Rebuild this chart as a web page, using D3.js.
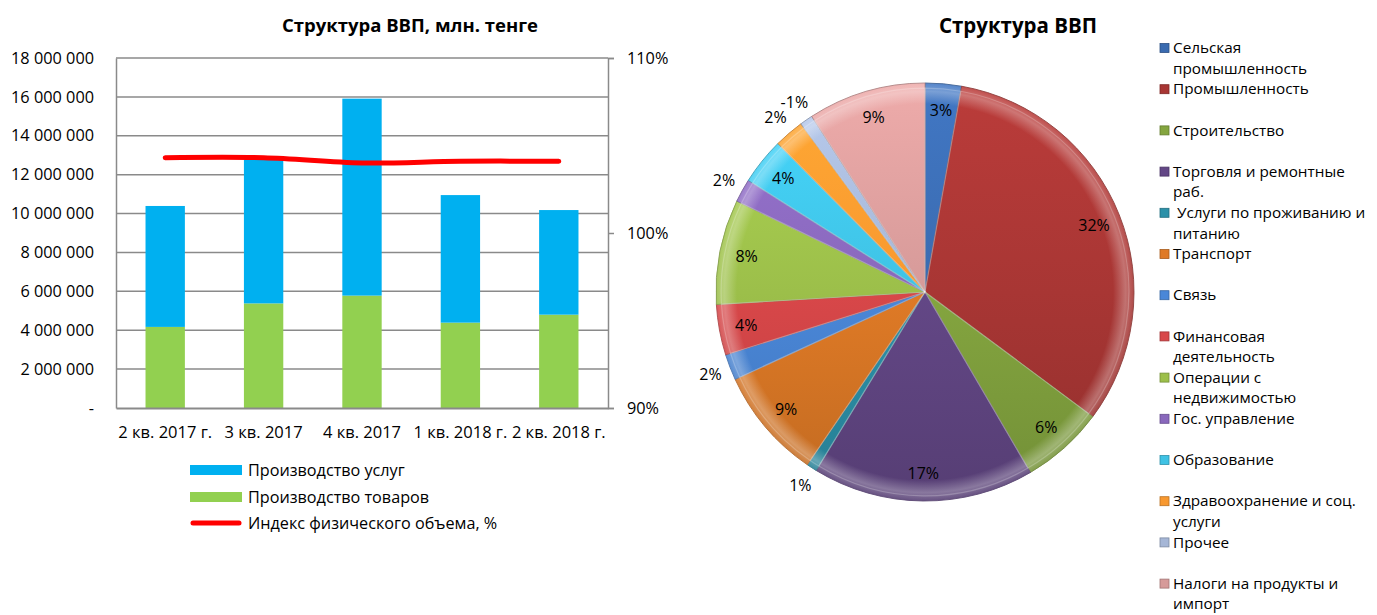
<!DOCTYPE html>
<html><head><meta charset="utf-8">
<script src="https://cdn.jsdelivr.net/npm/d3@7"></script>
<style>
body{margin:0;background:#fff;}
svg text{font-family:"Open Sans","Noto Sans",sans-serif;fill:#000;}
</style></head>
<body>
<svg id="c" width="1377" height="615"></svg>
<script>
// ---- Data: left chart ----
const quarters = ["2 кв. 2017 г.", "3 кв. 2017", "4 кв. 2017", "1 кв. 2018 г.", "2 кв. 2018 г."];
const goods    = [4170000, 5380000, 5780000, 4390000, 4800000];
const services = [6220000, 7410000, 10130000, 6560000, 5380000];
const volumeIndex = [1.043, 1.043, 1.040, 1.041, 1.041];
const leftTicks = [0, 2000000, 4000000, 6000000, 8000000, 10000000, 12000000, 14000000, 16000000, 18000000];
const rightTicks = [0.9, 1.0, 1.1];
const barSeriesNames = ["Производство услуг", "Производство товаров", "Индекс физического объема, %"];

// ---- Data: pie ----
const sectors = ["Сельская\nпромышленность", "Промышленность", "Строительство", "Торговля и ремонтные\nраб.",
  " Услуги по проживанию и\nпитанию", "Транспорт", "Связь", "Финансовая\nдеятельность", "Операции с\nнедвижимостью",
  "Гос. управление", "Образование", "Здравоохранение и соц.\nуслуги", "Прочее", "Налоги на продукты и\nимпорт"];
const shares = [2.8, 32.3, 6.4, 17.1, 0.8, 8.6, 2.0, 3.9, 8.1, 1.8, 3.6, 2.3, -1.0, 9.1];
const sectorColors = ["#3A6BB0","#A83634","#84A53F","#634786","#2C91A9","#DF7A26","#4A87D8",
  "#D84749","#9CBF4A","#8968BC","#3FC2E4","#F8982F","#A5B6D6","#D69A99"];

const svg = d3.select("#c");
const defs = svg.append("defs");

// ================= LEFT CHART =================
const L = {x0:116, x1:608, y0:58, y1:408};
const x = d3.scaleBand().domain(quarters).range([L.x0, L.x1]).paddingInner(0.6).paddingOuter(0.3);
const yL = d3.scaleLinear().domain([0, 18000000]).range([L.y1, L.y0]);
const yR = d3.scaleLinear().domain([0.9, 1.1]).range([L.y1, L.y0]);

svg.append("text").attr("x", 410).attr("y", 32).attr("text-anchor","middle")
  .style("font-size","18.5px").style("font-weight","bold").text("Структура ВВП, млн. тенге");

// gridlines
svg.append("g").selectAll("line").data(leftTicks.filter(d=>d>0)).join("line")
  .attr("x1", L.x0).attr("x2", L.x1).attr("y1", d=>yL(d)).attr("y2", d=>yL(d))
  .attr("stroke","#8a8a8a").attr("stroke-width",1.5);

const fmtL = d => d === 0 ? "-" : d3.format(",")(d).replace(/,/g, " ");
const axL = svg.append("g").attr("transform",`translate(${L.x0},0)`)
  .call(d3.axisLeft(yL).tickValues(leftTicks).tickFormat(fmtL).tickSize(0).tickPadding(22));
axL.select(".domain").attr("stroke","#8a8a8a").attr("stroke-width",1.5);
axL.selectAll("text").style("font-size","16.3px").style("font-family","'Open Sans'");

// bars
const stackData = quarters.map((q,i)=>({q, goods:goods[i], services:services[i]}));
const stack = d3.stack().keys(["goods","services"])(stackData);
const barColor = {goods:"#92D050", services:"#00B0F0"};
svg.append("g").selectAll("g").data(stack).join("g").attr("fill", d=>barColor[d.key])
  .selectAll("rect").data(d=>d).join("rect")
  .attr("x", d=>x(d.data.q)).attr("width", x.bandwidth())
  .attr("y", d=>yL(d[1])).attr("height", d=>yL(d[0])-yL(d[1]));

// bottom axis
const axB = svg.append("g").attr("transform",`translate(0,${L.y1})`)
  .call(d3.axisBottom(x).tickSize(0).tickPadding(18));
axB.select(".domain").attr("stroke","#8a8a8a").attr("stroke-width",2);
axB.selectAll("text").style("font-size","16.5px").style("font-family","'Open Sans'");

// right axis
const axR = svg.append("g").attr("transform",`translate(${L.x1},0)`)
  .call(d3.axisRight(yR).tickValues(rightTicks).tickFormat(d3.format(".0%")).tickSizeOuter(0).tickSize(6).tickPadding(13));
axR.select(".domain").attr("stroke","#8a8a8a").attr("stroke-width",1.5);
axR.selectAll("line").attr("stroke","#8a8a8a").attr("stroke-width",1.5);
axR.selectAll("text").style("font-size","16.3px").style("font-family","'Open Sans'");

// line
const line = d3.line().x((d,i)=>x(quarters[i])+x.bandwidth()/2).y(d=>yR(d)).curve(d3.curveCatmullRom.alpha(0));
svg.append("path").datum(volumeIndex).attr("d", line).attr("fill","none")
  .attr("stroke","#FF0000").attr("stroke-width",5).attr("stroke-linecap","round");

// left legend
const lg = svg.append("g");
const lgY = [470, 497, 523];
lg.append("rect").attr("x",190).attr("y",lgY[0]-5).attr("width",52).attr("height",10).attr("fill",barColor.services);
lg.append("rect").attr("x",190).attr("y",lgY[1]-5).attr("width",52).attr("height",10).attr("fill",barColor.goods);
lg.append("line").attr("x1",193).attr("x2",239).attr("y1",lgY[2]).attr("y2",lgY[2])
  .attr("stroke","#FF0000").attr("stroke-width",5).attr("stroke-linecap","round");
lg.selectAll("text").data(barSeriesNames).join("text").attr("x",248).attr("y",(d,i)=>lgY[i]+5.5)
  .style("font-size","16.2px").text(d=>d);

// ================= PIE =================
const P = {cx:925, cy:292, r:209};
svg.append("text").attr("x", 1018).attr("y", 33).attr("text-anchor","middle")
  .style("font-size","20.5px").style("font-weight","bold").text("Структура ВВП");

const total = d3.sum(shares, d=>Math.abs(d));
const pie = d3.pie().sort(null).value(d=>Math.abs(d))(shares);
const arc = d3.arc().innerRadius(0).outerRadius(P.r);
const pg = svg.append("g").attr("transform",`translate(${P.cx},${P.cy})`);

sectorColors.forEach((c,i)=>{
  const g = defs.append("linearGradient").attr("id","pg"+i).attr("gradientUnits","userSpaceOnUse")
    .attr("x1",0).attr("y1",-P.r).attr("x2",0).attr("y2",P.r);
  g.append("stop").attr("offset","0%").attr("stop-color", d3.color(c).brighter(0.3));
  g.append("stop").attr("offset","50%").attr("stop-color", c);
  g.append("stop").attr("offset","100%").attr("stop-color", d3.color(c).darker(0.4));
});
pg.selectAll("path.s").data(pie).join("path").attr("class","s")
  .attr("d", arc).attr("fill",(d,i)=>`url(#pg${i})`)
  .attr("stroke",(d,i)=>d3.color(sectorColors[i]).darker(0.8)).attr("stroke-width",0.8);

// bevel-like rim highlight
const rim = defs.append("radialGradient").attr("id","rim").attr("gradientUnits","userSpaceOnUse")
  .attr("cx",0).attr("cy",0).attr("r",P.r);
rim.append("stop").attr("offset","90%").attr("stop-color","#fff").attr("stop-opacity",0);
rim.append("stop").attr("offset","96%").attr("stop-color","#fff").attr("stop-opacity",0.3);
rim.append("stop").attr("offset","100%").attr("stop-color","#fff").attr("stop-opacity",0.1);
pg.selectAll("path.r").data(pie).join("path").attr("class","r")
  .attr("d", d3.arc().innerRadius(P.r*0.88).outerRadius(P.r)).attr("fill","url(#rim)");
// inner edge highlight
pg.selectAll("path.e").data(pie).join("path").attr("class","e")
  .attr("d", d3.arc().innerRadius(0).outerRadius(P.r-2)).attr("fill","none")
  .attr("stroke","#fff").attr("stroke-opacity",0.22).attr("stroke-width",1.2)
  .attr("transform","scale(0.985)");

const fmtP = v => Math.round(v/total*100) + "%";
pg.selectAll("text").data(pie).join("text")
  .attr("transform", d=>{
    const a = (d.startAngle+d.endAngle)/2;
    const inside = Math.abs(d.data)/total >= 0.025;
    const rr = inside ? P.r*0.87 : P.r*1.1;
    return `translate(${Math.sin(a)*rr},${-Math.cos(a)*rr})`;
  })
  .attr("text-anchor","middle").attr("dy","0.35em").style("font-size","16px")
  .text(d=>fmtP(d.data));

// right legend
const rl = svg.append("g");
const entries = rl.selectAll("g").data(sectors).join("g")
  .attr("transform",(d,i)=>`translate(1160,${48 + i*41.2})`);
entries.append("rect").attr("x",0).attr("y",-4.5).attr("width",9).attr("height",9)
  .attr("fill",(d,i)=>sectorColors[i]).attr("stroke",(d,i)=>d3.color(sectorColors[i]).darker(0.8)).attr("stroke-width",0.8);
entries.append("text").attr("x",13).attr("y",5.2).style("font-size","15.3px")
  .selectAll("tspan").data(d=>d.split("\n")).join("tspan")
  .attr("x",13).attr("dy",(d,i)=>i===0?0:20.6).attr("xml:space","preserve").text(d=>d);
</script>
</body></html>
